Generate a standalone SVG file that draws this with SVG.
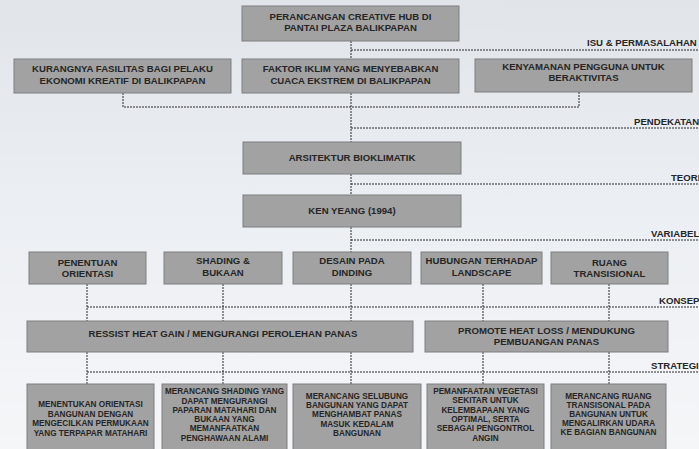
<svg xmlns="http://www.w3.org/2000/svg" width="699" height="449" viewBox="0 0 699 449">
<defs>
<linearGradient id="bg" x1="0" y1="0" x2="0" y2="1">
<stop offset="0" stop-color="#e1e5ea"/>
<stop offset="0.5" stop-color="#eceff3"/>
<stop offset="1" stop-color="#f5f6f8"/>
</linearGradient>
<style>
.box{fill:#a2a2a2;stroke:#7e7e7e;stroke-width:1}
.t{font-family:"Liberation Sans",Arial,sans-serif;font-weight:bold;font-size:9.6px;fill:#262626;text-anchor:middle}
.s{font-family:"Liberation Sans",Arial,sans-serif;font-weight:bold;font-size:8.2px;fill:#262626;text-anchor:middle}
.lab{font-family:"Liberation Sans",Arial,sans-serif;font-weight:bold;font-size:9.6px;fill:#262626}
.c{fill:none;stroke:#2a2a2a;stroke-width:1;stroke-dasharray:2 1}
</style>
</defs>
<rect width="699" height="449" fill="url(#bg)"/>

<g id="connectors">
<path class="c" d="M351 41V59M351 50H699"/>
<path class="c" d="M351 93V142M123 93V107H579M579 92V107M351 128H699"/>
<path class="c" d="M351 174V195M351 184H699"/>
<path class="c" d="M351 227V252M351 240H699"/>
<path class="c" d="M87 284V321M223 284V321M351 284V321M483 284V321M609 284V321M87 307H699"/>
<path class="c" d="M87 352V384M223 352V384M351 352V384M483 352V384M609 352V384M87 372H699"/>
</g>

<g id="labels">
<text class="lab" x="587" y="46">ISU &amp; PERMASALAHAN</text>
<text class="lab" x="634" y="125">PENDEKATAN</text>
<text class="lab" x="671" y="181">TEORI</text>
<text class="lab" x="651" y="237">VARIABEL</text>
<text class="lab" x="659" y="304">KONSEP</text>
<text class="lab" x="651" y="369">STRATEGI</text>
</g>

<g id="n-top">
<rect class="box" x="242" y="6" width="217" height="35"/>
<text class="t" x="350.5" y="20">PERANCANGAN CREATIVE HUB DI</text>
<text class="t" x="350.5" y="31">PANTAI PLAZA BALIKPAPAN</text>
</g>

<g id="n-isu1">
<rect class="box" x="14" y="59" width="217" height="34"/>
<text class="t" x="122.5" y="72">KURANGNYA FASILITAS BAGI PELAKU</text>
<text class="t" x="122.5" y="83.5">EKONOMI KREATIF DI BALIKPAPAN</text>
</g>
<g id="n-isu2">
<rect class="box" x="242" y="59" width="217" height="34"/>
<text class="t" x="350.5" y="72">FAKTOR IKLIM YANG MENYEBABKAN</text>
<text class="t" x="350.5" y="83.5">CUACA EKSTREM DI BALIKPAPAN</text>
</g>
<g id="n-isu3">
<rect class="box" x="475" y="59" width="217" height="33"/>
<text class="t" x="583.5" y="70">KENYAMANAN PENGGUNA UNTUK</text>
<text class="t" x="583.5" y="81">BERAKTIVITAS</text>
</g>

<g id="n-arsitektur">
<rect class="box" x="243" y="142" width="218" height="32"/>
<text class="t" x="352" y="161">ARSITEKTUR BIOKLIMATIK</text>
</g>
<g id="n-kenyeang">
<rect class="box" x="243" y="195" width="218" height="32"/>
<text class="t" x="352" y="214">KEN YEANG (1994)</text>
</g>

<g id="n-v1">
<rect class="box" x="29" y="252" width="117" height="32"/>
<text class="t" x="87.5" y="265.5">PENENTUAN</text>
<text class="t" x="87.5" y="277">ORIENTASI</text>
</g>
<g id="n-v2">
<rect class="box" x="164" y="252" width="118" height="32"/>
<text class="t" x="223" y="263.5">SHADING &amp;</text>
<text class="t" x="223" y="275.5">BUKAAN</text>
</g>
<g id="n-v3">
<rect class="box" x="293" y="252" width="118" height="32"/>
<text class="t" x="352" y="263.5">DESAIN PADA</text>
<text class="t" x="352" y="275.5">DINDING</text>
</g>
<g id="n-v4">
<rect class="box" x="421" y="252" width="121" height="32"/>
<text class="t" x="481.5" y="263.5">HUBUNGAN TERHADAP</text>
<text class="t" x="481.5" y="275.5">LANDSCAPE</text>
</g>
<g id="n-v5">
<rect class="box" x="551" y="252" width="117" height="32"/>
<text class="t" x="609.5" y="265.5">RUANG</text>
<text class="t" x="609.5" y="277">TRANSISIONAL</text>
</g>

<g id="n-k1">
<rect class="box" x="27" y="321" width="386" height="31"/>
<text class="t" x="223" y="337">RESSIST HEAT GAIN / MENGURANGI PEROLEHAN PANAS</text>
</g>
<g id="n-k2">
<rect class="box" x="425" y="321" width="243" height="31"/>
<text class="t" x="546.5" y="333.5">PROMOTE HEAT LOSS / MENDUKUNG</text>
<text class="t" x="546.5" y="344.5">PEMBUANGAN PANAS</text>
</g>

<g id="n-s1">
<rect class="box" x="27" y="384" width="127" height="70"/>
<text class="s" x="90.5" y="407">MENENTUKAN ORIENTASI</text>
<text class="s" x="90.5" y="416.5">BANGUNAN DENGAN</text>
<text class="s" x="90.5" y="426">MENGECILKAN PERMUKAAN</text>
<text class="s" x="90.5" y="435.5">YANG TERPAPAR MATAHARI</text>
</g>
<g id="n-s2">
<rect class="box" x="162" y="384" width="125" height="70"/>
<text class="s" x="224.5" y="394">MERANCANG SHADING YANG</text>
<text class="s" x="224.5" y="403.5">DAPAT MENGURANGI</text>
<text class="s" x="224.5" y="412.5">PAPARAN MATAHARI DAN</text>
<text class="s" x="224.5" y="421.5">BUKAAN YANG</text>
<text class="s" x="224.5" y="431">MEMANFAATKAN</text>
<text class="s" x="224.5" y="440.5">PENGHAWAAN ALAMI</text>
</g>
<g id="n-s3">
<rect class="box" x="293" y="384" width="128" height="70"/>
<text class="s" x="357" y="399">MERANCANG SELUBUNG</text>
<text class="s" x="357" y="408">BANGUNAN YANG DAPAT</text>
<text class="s" x="357" y="417">MENGHAMBAT PANAS</text>
<text class="s" x="357" y="426.5">MASUK KEDALAM</text>
<text class="s" x="357" y="436">BANGUNAN</text>
</g>
<g id="n-s4">
<rect class="box" x="427" y="384" width="117" height="70"/>
<text class="s" x="485.5" y="394">PEMANFAATAN VEGETASI</text>
<text class="s" x="485.5" y="403">SEKITAR UNTUK</text>
<text class="s" x="485.5" y="412.5">KELEMBAPAAN YANG</text>
<text class="s" x="485.5" y="422">OPTIMAL, SERTA</text>
<text class="s" x="485.5" y="431">SEBAGAI PENGONTROL</text>
<text class="s" x="485.5" y="441">ANGIN</text>
</g>
<g id="n-s5">
<rect class="box" x="551" y="384" width="115" height="70"/>
<text class="s" x="608.5" y="399">MERANCANG RUANG</text>
<text class="s" x="608.5" y="407.5">TRANSISONAL PADA</text>
<text class="s" x="608.5" y="416.5">BANGUNAN UNTUK</text>
<text class="s" x="608.5" y="426">MENGALIRKAN UDARA</text>
<text class="s" x="608.5" y="435">KE BAGIAN BANGUNAN</text>
</g>
</svg>
